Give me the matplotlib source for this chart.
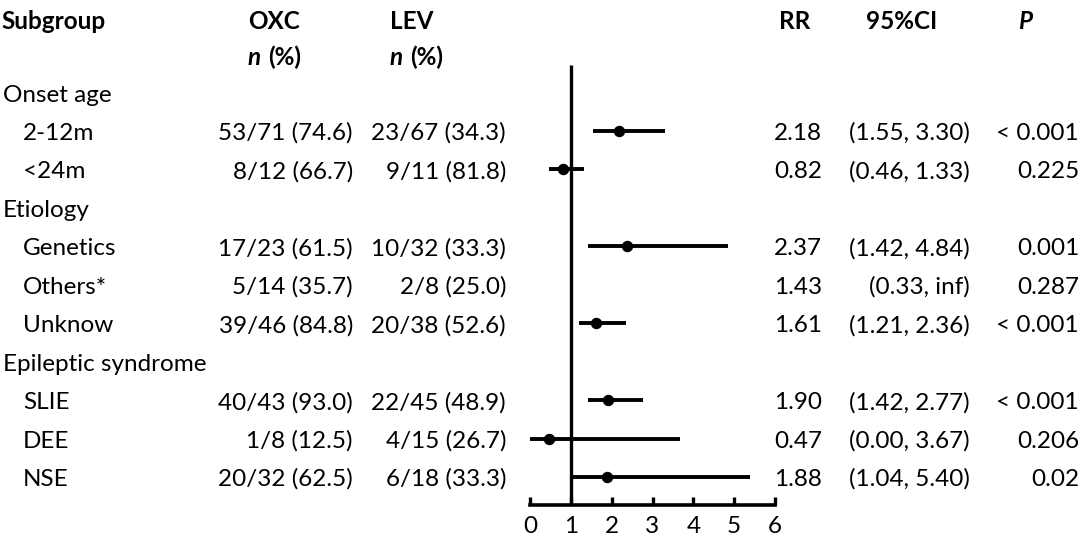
import matplotlib
matplotlib.use("Agg")
import matplotlib.pyplot as plt
import numpy as np
from matplotlib.transforms import blended_transform_factory

plt.rcParams['font.family'] = ['Lato', 'DejaVu Sans']

# ---- data ----
labels = ["Onset age", "2-12m", "<24m", "Etiology", "Genetics", "Others*", "Unknow",
          "Epileptic syndrome", "SLIE", "DEE", "NSE"]
is_group = [True, False, False, True, False, False, False, True, False, False, False]
oxc = ["", "53/71 (74.6)", "8/12 (66.7)", "", "17/23 (61.5)", "5/14 (35.7)", "39/46 (84.8)",
       "", "40/43 (93.0)", "1/8 (12.5)", "20/32 (62.5)"]
lev = ["", "23/67 (34.3)", "9/11 (81.8)", "", "10/32 (33.3)", "2/8 (25.0)", "20/38 (52.6)",
       "", "22/45 (48.9)", "4/15 (26.7)", "6/18 (33.3)"]
rr = [np.nan, 2.18, 0.82, np.nan, 2.37, 1.43, 1.61, np.nan, 1.90, 0.47, 1.88]
ci_low = [np.nan, 1.55, 0.46, np.nan, 1.42, 0.33, 1.21, np.nan, 1.42, 0.00, 1.04]
ci_high = [np.nan, 3.30, 1.33, np.nan, 4.84, np.inf, 2.36, np.nan, 2.77, 3.67, 5.40]
pvals = ["", "< 0.001", "0.225", "", "0.001", "0.287", "< 0.001", "", "< 0.001", "0.206", "0.02"]
xticks = [0, 1, 2, 3, 4, 5, 6]

W, H = 1084, 547
fig = plt.figure(figsize=(W / 100, H / 100), dpi=100)

# geometry in pixels
x0_px, x6_px = 530, 775
axis_px = 505
row0_px, row_step = 92.5, 38.45

ax = fig.add_axes([x0_px / W, (H - axis_px) / H, (x6_px - x0_px) / W, axis_px / H])
ax.set_xlim(0, 6)
ax.set_ylim((axis_px - row0_px) / row_step, -row0_px / row_step)
ax.patch.set_visible(False)
for s in ["top", "right", "left"]:
    ax.spines[s].set_visible(False)
ax.spines["bottom"].set_linewidth(2.6)
ax.spines["bottom"].set_bounds(0, 6)
ax.set_yticks([])
ax.set_xticks(xticks)
ax.set_xticklabels([str(t) for t in xticks])
fs = 17.5
ax.tick_params(axis="x", direction="in", length=6, width=2.4, pad=8, labelsize=fs)

# reference line at 1
ytop = (65 - row0_px) / row_step
ax.plot([1, 1], [ytop, (axis_px - row0_px) / row_step], color="black", lw=2.4,
        solid_capstyle="butt", clip_on=False)

rows = np.arange(len(labels))
for y, r, lo, hi in zip(rows, rr, ci_low, ci_high):
    if np.isnan(r) or not np.isfinite(hi):
        continue
    ax.plot([lo, hi], [y, y], color="black", lw=2.8, solid_capstyle="butt", clip_on=False)
    ax.plot([r], [y], "o", color="black", ms=7.2, clip_on=False)

# text
tr = blended_transform_factory(fig.transFigure, ax.transData)
base = 9 / row_step  # baseline offset from row center


def fx(px):
    return px / W


hdr1 = (20 - row0_px) / row_step
hdr2 = (56 - row0_px) / row_step
fig.text(fx(1), hdr1 + base, "Subgroup", transform=tr, fontsize=fs, fontweight="bold", va="baseline")
fig.text(fx(248), hdr1 + base, "OXC", transform=tr, fontsize=fs, fontweight="bold", va="baseline")
fig.text(fx(390), hdr1 + base, "LEV", transform=tr, fontsize=fs, fontweight="bold", va="baseline")
fig.text(fx(779), hdr1 + base, "RR", transform=tr, fontsize=fs, fontweight="bold", va="baseline")
fig.text(fx(866), hdr1 + base, "95%CI", transform=tr, fontsize=fs, fontweight="bold", va="baseline")
fig.text(fx(1018), hdr1 + base, "P", transform=tr, fontsize=fs, fontweight="bold",
         fontstyle="italic", va="baseline")
for xp in (248, 390):
    fig.text(fx(xp), hdr2 + base, "n", transform=tr, fontsize=fs, fontweight="bold",
             fontstyle="italic", va="baseline")
    fig.text(fx(xp + 20), hdr2 + base, "(%)", transform=tr, fontsize=fs, fontweight="bold",
             va="baseline")

for y, lab, g, o, l, r, lo, hi, p in zip(rows, labels, is_group, oxc, lev, rr, ci_low, ci_high, pvals):
    yb = y + base
    fig.text(fx(3 if g else 23), yb, lab, transform=tr, fontsize=fs, va="baseline")
    if g:
        continue
    fig.text(fx(353), yb, o, transform=tr, fontsize=fs, va="baseline", ha="right")
    fig.text(fx(506), yb, l, transform=tr, fontsize=fs, va="baseline", ha="right")
    fig.text(fx(774), yb, f"{r:.2f}", transform=tr, fontsize=fs, va="baseline")
    hi_s = "inf" if not np.isfinite(hi) else f"{hi:.2f}"
    fig.text(fx(970), yb, f"({lo:.2f}, {hi_s})", transform=tr, fontsize=fs, va="baseline", ha="right")
    fig.text(fx(1079), yb, p, transform=tr, fontsize=fs, va="baseline", ha="right")

fig.savefig("out.png", dpi=100)
